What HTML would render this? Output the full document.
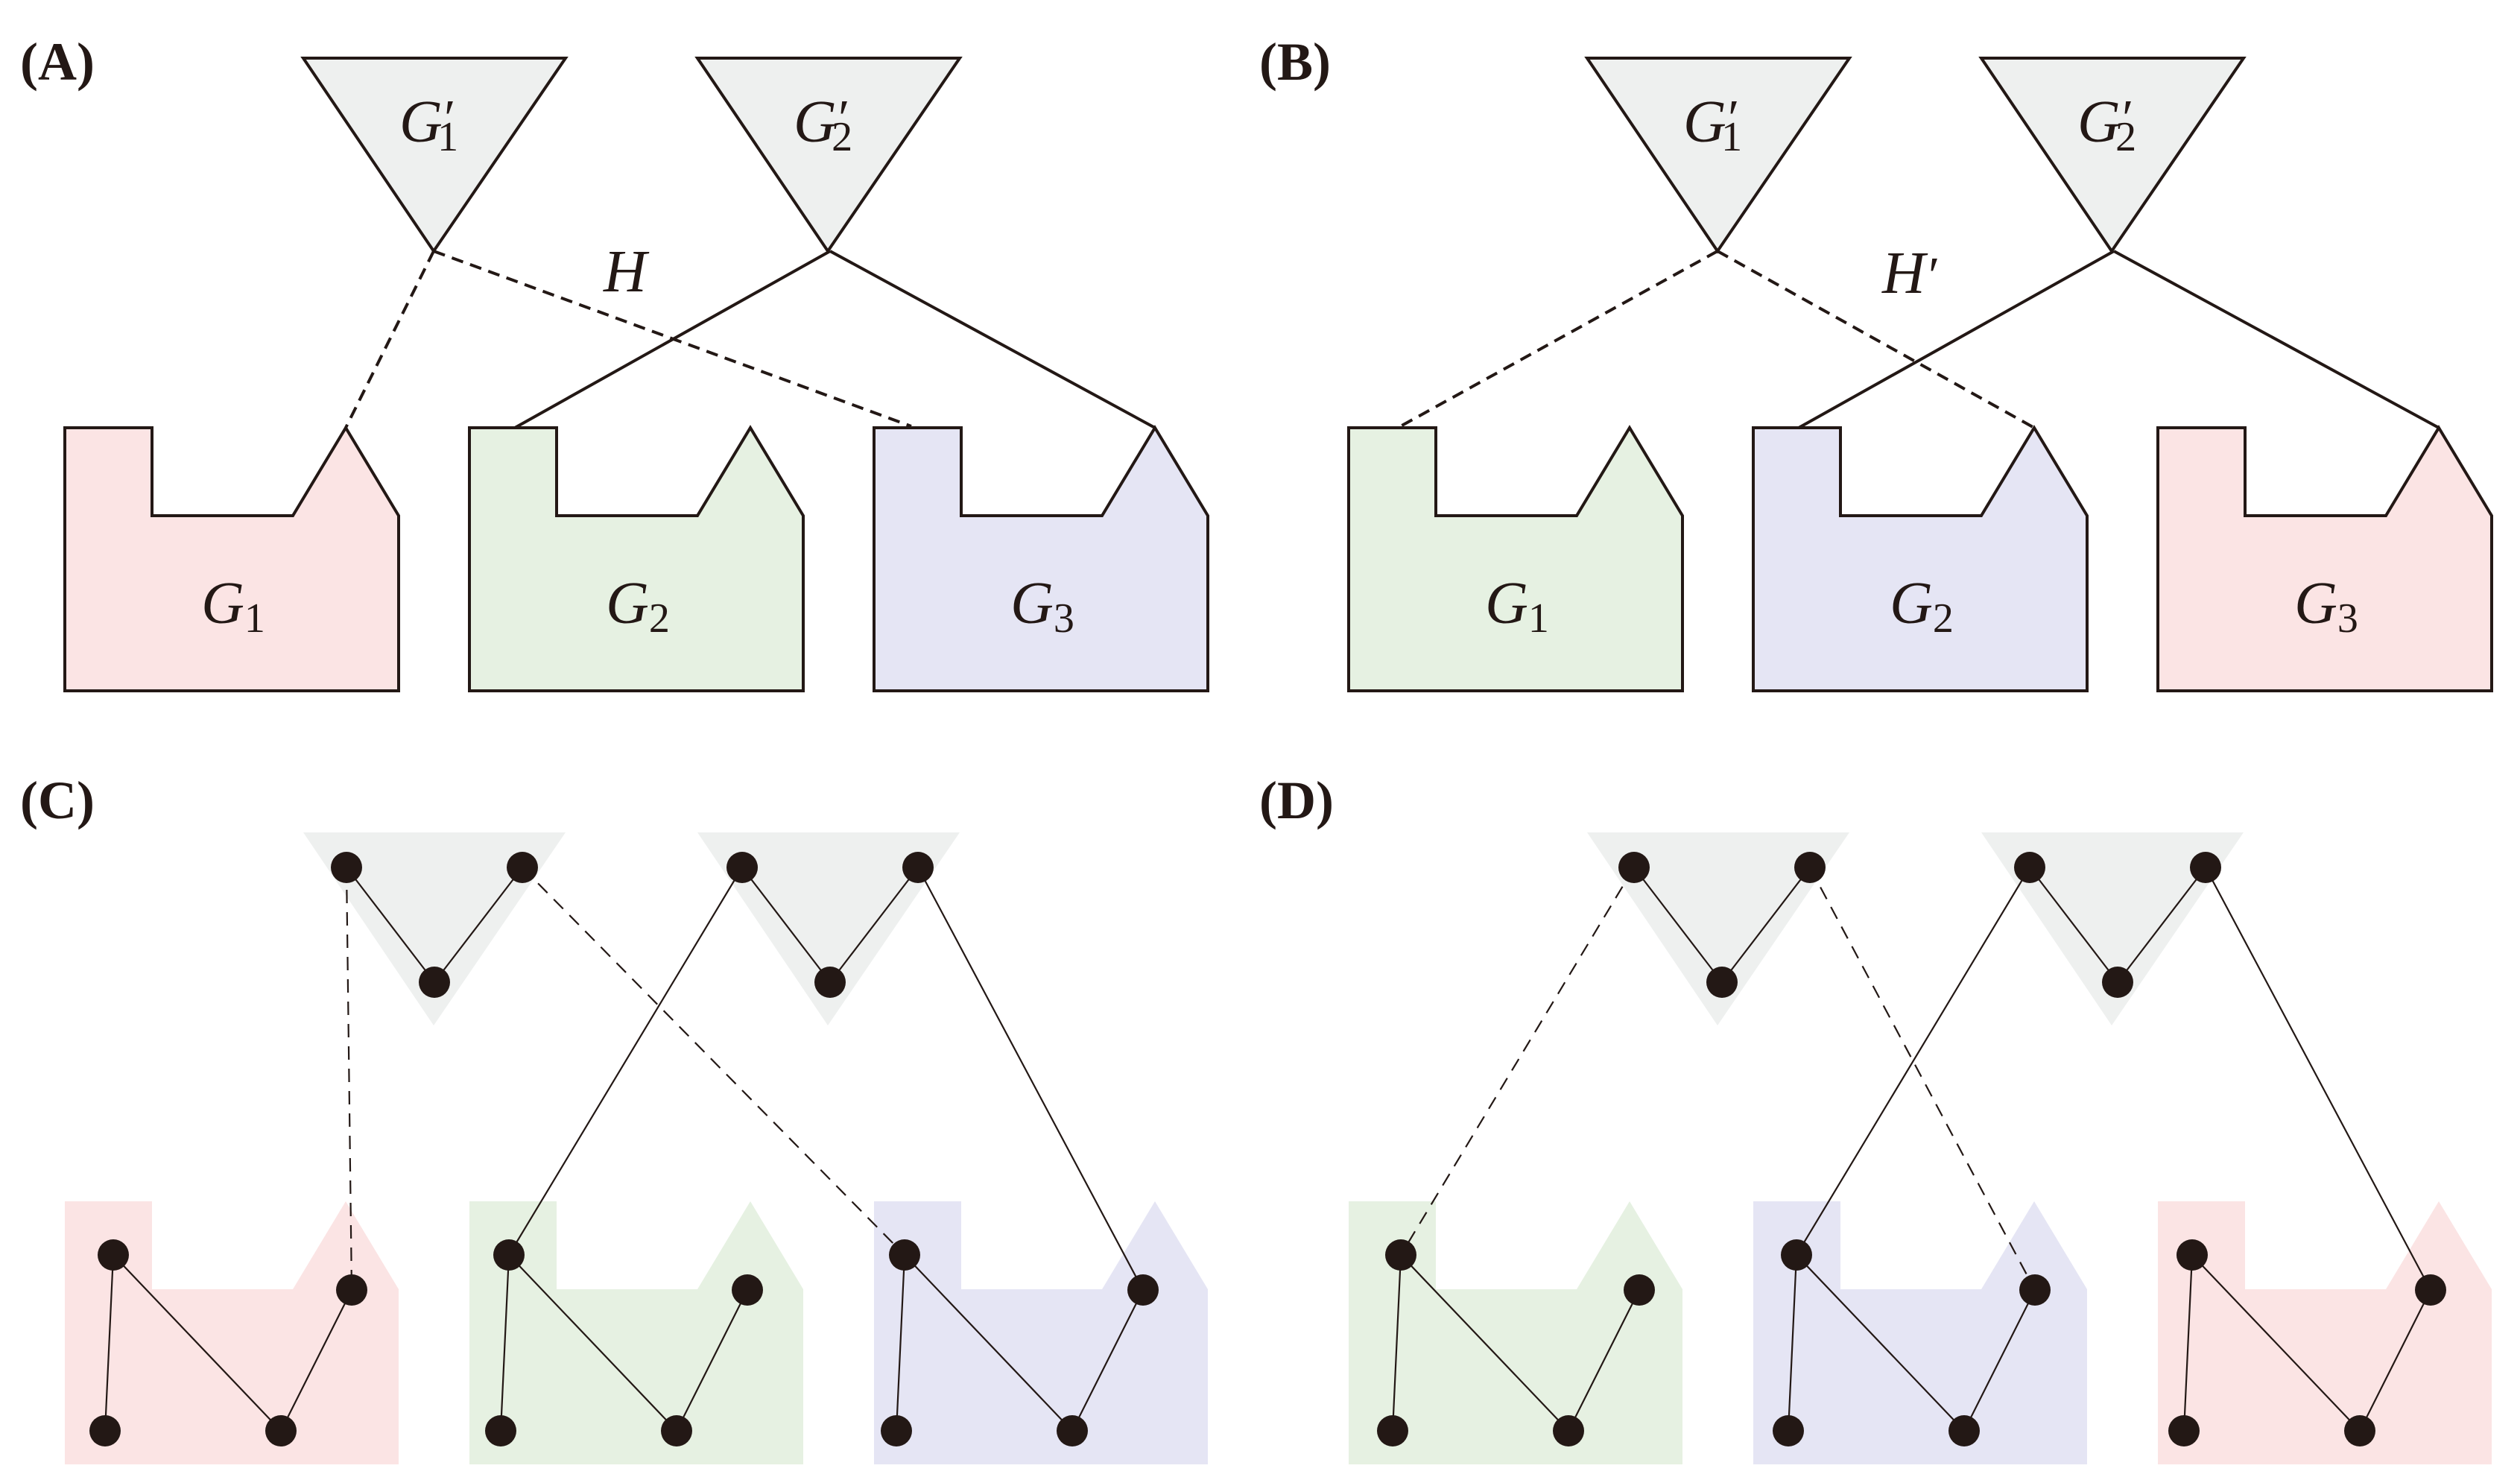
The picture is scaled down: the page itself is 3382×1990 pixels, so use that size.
<!DOCTYPE html>
<html><head><meta charset="utf-8"><style>html,body{margin:0;padding:0;background:#fff}svg{display:block}</style></head><body>
<svg width="3382" height="1990" viewBox="0 0 3382 1990" xmlns="http://www.w3.org/2000/svg" font-family="'Liberation Serif',serif">
<defs>
<path id="shape" d="M87,0 L204,0 L204,118 L393,118 L464,0 L535,118 L535,353 L87,353 Z"/>
<path id="tri" d="M407,0 L759,0 L582,259 Z"/>
<g id="dots">
<circle cx="152" cy="0" r="21"/><circle cx="472" cy="47" r="21"/><circle cx="141" cy="236" r="21"/><circle cx="377" cy="236" r="21"/>
</g>
<g id="inner" stroke="#231815" stroke-width="2.2" fill="none">
<path d="M152,0 L141,236 M152,0 L377,236 L472,47"/>
</g>
</defs>
<g fill="#231815" font-weight="bold" font-size="72">
<text x="27" y="107">(A)</text><text x="1690" y="107">(B)</text>
<text x="27" y="1098">(C)</text><text x="1690" y="1098">(D)</text>
</g>

<g stroke="#231815" stroke-width="4">
<use href="#tri" transform="translate(0,78)" fill="#eef0ef"/>
<use href="#tri" transform="translate(529,78)" fill="#eef0ef"/>
<use href="#shape" transform="translate(0,574)" fill="#fbe4e4"/>
<use href="#shape" transform="translate(543,574)" fill="#e6f1e2"/>
<use href="#shape" transform="translate(1086,574)" fill="#e5e5f4"/>
<path d="M582,337 L464,574 M582,337 L1223,572" fill="none" stroke-dasharray="16,10"/>
<path d="M1114,337 L691,574 M1114,337 L1550,574" fill="none"/>
</g>
<g stroke="#231815" stroke-width="4">
<use href="#tri" transform="translate(1723,78)" fill="#eef0ef"/>
<use href="#tri" transform="translate(2252,78)" fill="#eef0ef"/>
<use href="#shape" transform="translate(1723,574)" fill="#e6f1e2"/>
<use href="#shape" transform="translate(2266,574)" fill="#e5e5f4"/>
<use href="#shape" transform="translate(2809,574)" fill="#fbe4e4"/>
<path d="M2305,337 L1876,574 M2305,337 L2730,574" fill="none" stroke-dasharray="16,10"/>
<path d="M2837,337 L2414,574 M2837,337 L3273,574" fill="none"/>
</g>
<g fill="#231815" font-style="italic" font-size="80">
<text x="313" y="836" text-anchor="middle">G<tspan font-style="normal" font-size="56" dy="12">1</tspan></text>
<text x="856" y="836" text-anchor="middle">G<tspan font-style="normal" font-size="56" dy="12">2</tspan></text>
<text x="1399" y="836" text-anchor="middle">G<tspan font-style="normal" font-size="56" dy="12">3</tspan></text>
<text x="2036" y="836" text-anchor="middle">G<tspan font-style="normal" font-size="56" dy="12">1</tspan></text>
<text x="2579" y="836" text-anchor="middle">G<tspan font-style="normal" font-size="56" dy="12">2</tspan></text>
<text x="3122" y="836" text-anchor="middle">G<tspan font-style="normal" font-size="56" dy="12">3</tspan></text>
<text x="536" y="190">G<tspan font-size="70" dx="-2" dy="-8">′</tspan><tspan font-style="normal" font-size="56" dx="-20" dy="20">1</tspan></text>
<text x="1065" y="190">G<tspan font-size="70" dx="-2" dy="-8">′</tspan><tspan font-style="normal" font-size="56" dx="-20" dy="20">2</tspan></text>
<text x="2259" y="190">G<tspan font-size="70" dx="-2" dy="-8">′</tspan><tspan font-style="normal" font-size="56" dx="-20" dy="20">1</tspan></text>
<text x="2788" y="190">G<tspan font-size="70" dx="-2" dy="-8">′</tspan><tspan font-style="normal" font-size="56" dx="-20" dy="20">2</tspan></text>
<text x="810" y="391">H</text>
<text x="2526" y="393">H<tspan font-size="70">′</tspan></text>
</g>

<g fill="#eef0ef">
<use href="#tri" transform="translate(0,1117)"/>
<use href="#tri" transform="translate(529,1117)"/>
<use href="#tri" transform="translate(1723,1117)"/>
<use href="#tri" transform="translate(2252,1117)"/>
</g>
<g stroke="none">
<use href="#shape" transform="translate(0,1612)" fill="#fbe4e4"/>
<use href="#shape" transform="translate(543,1612)" fill="#e6f1e2"/>
<use href="#shape" transform="translate(1086,1612)" fill="#e5e5f4"/>
<use href="#shape" transform="translate(1723,1612)" fill="#e6f1e2"/>
<use href="#shape" transform="translate(2266,1612)" fill="#e5e5f4"/>
<use href="#shape" transform="translate(2809,1612)" fill="#fbe4e4"/>
</g>
<g stroke="#231815" stroke-width="2.2" fill="none">
<path d="M465,1164 L583,1318 L701,1164 M996,1164 L1114,1318 L1232,1164"/>
<path d="M2193,1164 L2311,1318 L2429,1164 M2724,1164 L2842,1318 L2960,1164"/>
<path d="M465,1164 L472,1731 M701,1164 L1214,1684" stroke-dasharray="18,12"/>
<path d="M996,1164 L683,1684 M1232,1164 L1534,1731"/>
<path d="M2193,1164 L1880,1684 M2429,1164 L2731,1731" stroke-dasharray="18,12"/>
<path d="M2724,1164 L2411,1684 M2960,1164 L3262,1731"/>
</g>
<use href="#inner" transform="translate(0,1684)"/>
<use href="#inner" transform="translate(531,1684)"/>
<use href="#inner" transform="translate(1062,1684)"/>
<use href="#inner" transform="translate(1728,1684)"/>
<use href="#inner" transform="translate(2259,1684)"/>
<use href="#inner" transform="translate(2790,1684)"/>
<g fill="#231815">
<use href="#dots" transform="translate(0,1684)"/>
<use href="#dots" transform="translate(531,1684)"/>
<use href="#dots" transform="translate(1062,1684)"/>
<use href="#dots" transform="translate(1728,1684)"/>
<use href="#dots" transform="translate(2259,1684)"/>
<use href="#dots" transform="translate(2790,1684)"/>
<circle cx="465" cy="1164" r="21"/><circle cx="701" cy="1164" r="21"/><circle cx="583" cy="1318" r="21"/>
<circle cx="996" cy="1164" r="21"/><circle cx="1232" cy="1164" r="21"/><circle cx="1114" cy="1318" r="21"/>
<circle cx="2193" cy="1164" r="21"/><circle cx="2429" cy="1164" r="21"/><circle cx="2311" cy="1318" r="21"/>
<circle cx="2724" cy="1164" r="21"/><circle cx="2960" cy="1164" r="21"/><circle cx="2842" cy="1318" r="21"/>
</g>
</svg>
</body></html>
